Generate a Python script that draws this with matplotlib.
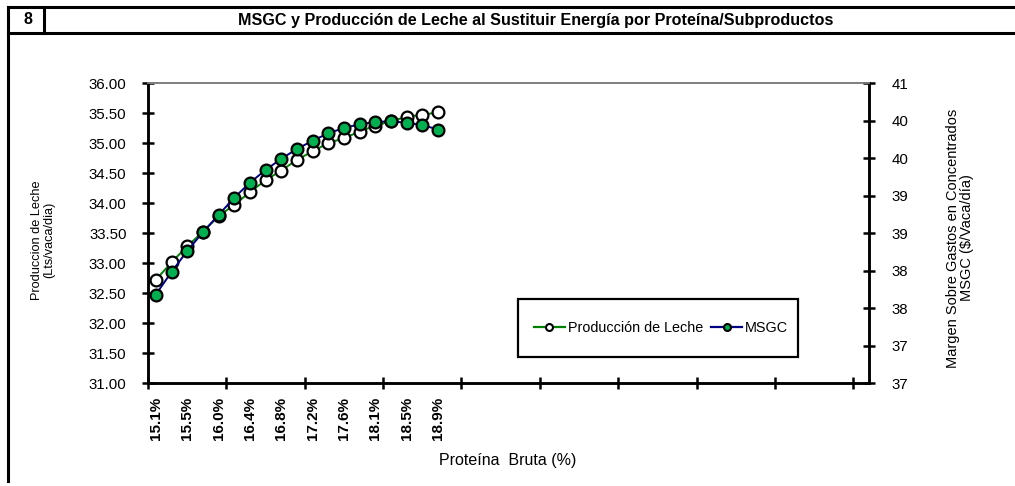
import numpy as np
import matplotlib
matplotlib.use("Agg")
import matplotlib.pyplot as plt
from matplotlib.lines import Line2D
from matplotlib.patches import Rectangle
from matplotlib.ticker import FixedLocator, FuncFormatter

# categories (% crude protein) that carry data; the axis has 46 slots
proteina = ["15.1%", "15.3%", "15.5%", "15.7%", "16.0%", "16.2%", "16.4%",
            "16.6%", "16.8%", "17.0%", "17.2%", "17.4%", "17.6%", "17.9%",
            "18.1%", "18.3%", "18.5%", "18.7%", "18.9%"]
N_SLOTS = 46

# milk production (left axis, Lts/vaca/dia)
produccion = [32.72, 33.01, 33.28, 33.52, 33.78, 33.97, 34.18, 34.38, 34.54,
              34.72, 34.86, 35.00, 35.08, 35.19, 35.29, 35.36, 35.44, 35.47,
              35.51]

# MSGC (right axis, $/vaca/dia)
msgc = [38.18, 38.48, 38.76, 39.01, 39.24, 39.47, 39.67, 39.84, 39.99,
        40.12, 40.23, 40.33, 40.40, 40.45, 40.48, 40.49, 40.47, 40.44,
        40.38]

left_ticks = [31.0, 31.5, 32.0, 32.5, 33.0, 33.5, 34.0, 34.5, 35.0, 35.5, 36.0]
right_ticks = [37.0, 37.5, 38.0, 38.5, 39.0, 39.5, 40.0, 40.5, 41.0]

FONT = ["Liberation Sans", "DejaVu Sans"]
plt.rcParams["font.family"] = FONT

W, H = 1015, 486
fig = plt.figure(figsize=(W / 100, H / 100), dpi=100)


def fx(px):
    return px / W


def fy(px):
    return 1 - px / H


# frame and header row
lw_box = 2.2
fig.add_artist(Line2D([fx(8), 1], [fy(7), fy(7)], color="black", lw=lw_box))
fig.add_artist(Line2D([fx(8), 1], [fy(33), fy(33)], color="black", lw=lw_box))
fig.add_artist(Line2D([fx(8), fx(8)], [fy(7), fy(481)], color="black", lw=lw_box))
fig.add_artist(Line2D([fx(44), fx(44)], [fy(7), fy(33)], color="black", lw=lw_box))
fig.text(fx(28), fy(20), "8", ha="center", va="center", fontsize=11.5,
         fontweight="bold")
fig.text(fx(536), fy(20),
         "MSGC y Producción de Leche al Sustituir Energía por Proteína/Subproductos",
         ha="center", va="center", fontsize=11.6, fontweight="bold")

left, right, top, bottom = 148, 869, 83, 383
ax = fig.add_axes([fx(left), fy(bottom), (right - left) / W, (bottom - top) / H])
ax2 = ax.twinx()

x = np.arange(len(proteina))

l1, = ax.plot(x, produccion, color="#008000", lw=1.4, marker="o", ms=8.5,
              mfc="white", mec="black", mew=1.6, zorder=3)
l2, = ax2.plot(x, msgc, color="#000080", lw=1.4, marker="o", ms=8.5,
               mfc="#00B050", mec="black", mew=1.6, zorder=3)

ax.set_xlim(-0.5, N_SLOTS - 0.5)
ax.set_ylim(31, 36)
ax2.set_ylim(37, 41)

# x axis: tick marks every 5 slots, labels every 2 categories
ax.xaxis.set_major_locator(FixedLocator(np.arange(-0.5, N_SLOTS - 1, 5)))
ax.xaxis.set_major_formatter(FuncFormatter(lambda v, p: ""))
ax.xaxis.set_minor_locator(FixedLocator(x[::2]))
ax.xaxis.set_minor_formatter(FuncFormatter(lambda v, p: proteina[int(round(v))]))
ax.tick_params(axis="x", which="major", direction="inout", length=9, width=1.8)
ax.tick_params(axis="x", which="minor", length=0, pad=10, labelsize=11,
               labelrotation=90)
for lab in ax.xaxis.get_minorticklabels():
    lab.set_fontweight("bold")

ax.yaxis.set_major_locator(FixedLocator(left_ticks))
ax.yaxis.set_major_formatter(FuncFormatter(lambda v, p: f"{v:.2f}"))
ax.tick_params(axis="y", direction="inout", length=9, width=1.8, pad=11,
               labelsize=10.8)

ax2.yaxis.set_major_locator(FixedLocator(right_ticks))
ax2.yaxis.set_major_formatter(FuncFormatter(lambda v, p: f"{int(np.floor(v + 1e-9))}"))
ax2.tick_params(axis="y", direction="inout", length=9, width=1.8, pad=12,
                labelsize=10.8)

for a in (ax, ax2):
    for s in ("left", "bottom", "right"):
        a.spines[s].set_linewidth(1.8)
        a.spines[s].set_color("black")
    a.spines["top"].set_color("#808080")
    a.spines["top"].set_linewidth(1.3)

fig.text(fx(43), fy(240), "Produccion de Leche\n(Lts/vaca/dia)", rotation=90,
         ha="center", va="center", fontsize=9.2, linespacing=1.0)
fig.text(fx(960), fy(238), "Margen Sobre Gastos en Concentrados\nMSGC ($/Vaca/día)",
         rotation=90, ha="center", va="center", fontsize=10.5, linespacing=1.0)
fig.text(fx(508), fy(460), "Proteína  Bruta (%)", ha="center", va="center",
         fontsize=11.5)

# legend: entries without frame, box drawn separately to get its exact size
h1 = Line2D([], [], color="#008000", lw=1.6, marker="o", ms=5, mfc="white",
            mec="black", mew=1.5)
h2 = Line2D([], [], color="#000080", lw=1.6, marker="o", ms=5, mfc="#00B050",
            mec="black", mew=1.5)
leg = ax2.legend([h1, h2], ["Producción de Leche", "MSGC"], ncol=2,
                 loc="center", bbox_to_anchor=(fx(661), fy(328)),
                 bbox_transform=fig.transFigure, fontsize=10.4, frameon=False,
                 borderpad=0, handlelength=2.2, handletextpad=0.2,
                 columnspacing=0.5, borderaxespad=0)
fig.add_artist(Rectangle((fx(518), fy(357)), fx(798) - fx(518), fy(299) - fy(357),
                         transform=fig.transFigure, fill=False,
                         edgecolor="black", lw=1.6, zorder=5))

fig.savefig("out.png", dpi=100)
